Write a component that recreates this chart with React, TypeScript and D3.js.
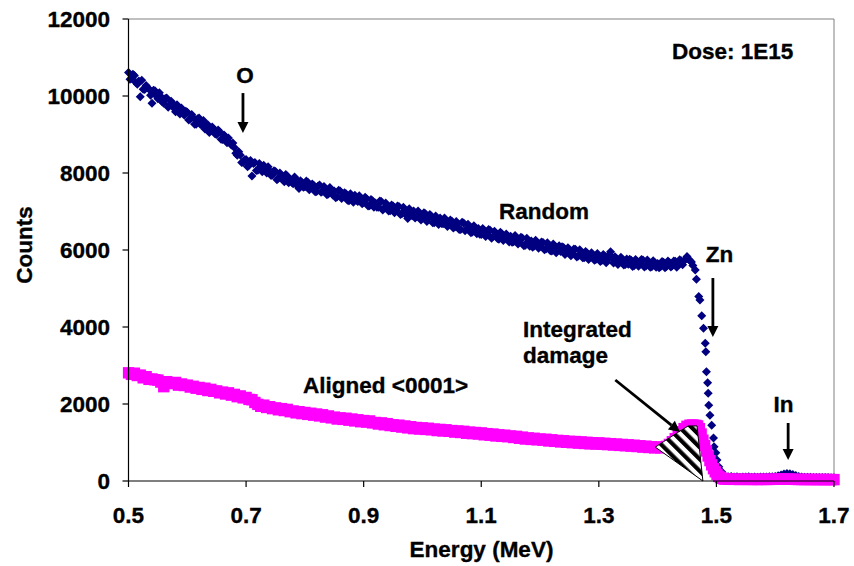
import React from "react";
import * as d3 from "d3";

// Channel layout (MeV)
const STEP = 0.005;
const MAIN_START = 0.5;
const MID_START = 0.5025;
const TAIL_START = 1.515;

const xTicks = [0.5, 0.7, 0.9, 1.1, 1.3, 1.5, 1.7];
const yTicks = [0, 2000, 4000, 6000, 8000, 10000, 12000];

// Random spectrum, channels 0.500 .. 1.460 MeV
const randomMain = [
  10610, 10455, 10530, 10305, 9980, 10175, 10270, 10175, 9810, 10135,
  9930, 9990, 9810, 9950, 9770, 9810, 9590, 9670, 9690, 9500,
  9580, 9395, 9440, 9265, 9430, 9255, 9140, 9255, 9100, 9145,
  9000, 9070, 8870, 8940, 8910, 8730, 8660, 8460, 8470, 8270,
  8350, 8200, 7920, 8270, 8070, 8170, 8200, 8000, 8060, 7950,
  8040, 7865, 7940, 7775, 7920, 7835, 7720, 7835, 7600, 7755,
  7640, 7758, 7626, 7684, 7522, 7690, 7528, 7566, 7454, 7562,
  7530, 7380, 7530, 7400, 7460, 7280, 7390, 7420, 7260, 7310,
  7240, 7330, 7150, 7280, 7220, 7110, 7260, 7090, 7150, 7020,
  7140, 7030, 7130, 6940, 7040, 6820, 6980, 7010, 6870, 6930,
  6830, 6940, 6820, 6880, 6710, 6810, 6830, 6680, 6730, 6660,
  6750, 6600, 6680, 6530, 6700, 6550, 6610, 6470, 6540, 6560,
  6400, 6512, 6414, 6516, 6348, 6410, 6282, 6424, 6326, 6358,
  6360, 6213, 6296, 6209, 6312, 6125, 6218, 6231, 6104, 6157,
  6100, 6193, 6026, 6119, 5972, 6105, 6038, 5961, 6064, 5957,
  6010, 5904, 6018, 5842, 5916, 5800, 5924, 5818, 5872, 5756,
  5840, 5728, 5846, 5734, 5952, 5660, 5778, 5676, 5764, 5622,
  5630, 5734, 5588, 5702, 5636, 5740, 5584, 5668, 5562, 5676,
  5650, 5565, 5680, 5570, 5675, 5590, 5710, 5620, 5720, 5720, 5830, 5730, 5600,
];
// Random spectrum, in-between channels 0.5025 .. 1.4575 MeV
const randomMid = [
  10432, 10567, 10352, 10387, 10412, 10167, 10212, 10017, 10152, 9997,
  10085, 9845, 9935, 9705, 9865, 9685, 9775, 9535, 9555, 9605,
  9377, 9522, 9267, 9412, 9257, 9362, 9237, 9052, 9197, 9012,
  9115, 8875, 8985, 8785, 8785, 8780, 8510, 8550, 8275, 8345,
  8165, 8325, 8245, 8065, 8245, 8035, 8065, 8165, 7935, 8060,
  7827, 8002, 7827, 7962, 7747, 7762, 7897, 7662, 7797, 7632,
  7789, 7567, 7715, 7513, 7661, 7499, 7647, 7435, 7623, 7431,
  7360, 7550, 7340, 7490, 7290, 7460, 7240, 7290, 7410, 7200,
  7370, 7140, 7310, 7110, 7110, 7270, 7040, 7220, 7010, 7170,
  6970, 7140, 6920, 7110, 6900, 7070, 6890, 6830, 7010, 6780,
  6970, 6740, 6920, 6710, 6880, 6660, 6690, 6830, 6610, 6780,
  6570, 6740, 6530, 6720, 6500, 6670, 6450, 6630, 6420, 6410,
  6561, 6353, 6535, 6307, 6489, 6301, 6463, 6245, 6417, 6209,
  6201, 6374, 6157, 6330, 6113, 6306, 6099, 6072, 6255, 6048,
  6211, 6004, 6187, 5980, 6153, 5926, 6109, 6082, 5885, 6058,
  5852, 6026, 5820, 6004, 5798, 5962, 5756, 5930, 5734, 5908,
  5704, 5882, 5670, 5878, 5806, 5824, 5622, 5810, 5608, 5766,
  5757, 5571, 5755, 5579, 5753, 5557, 5741, 5555, 5719, 5553,
  5538, 5702, 5540, 5712, 5558, 5715, 5555, 5750, 5620, 5760, 5760, 5690,
];
// Random spectrum, Zn edge
const randomEdgeE = [1.464, 1.466, 1.47, 1.472, 1.475, 1.478, 1.481, 1.482, 1.483, 1.485, 1.486, 1.487, 1.489, 1.492, 1.495, 1.496, 1.499, 1.501, 1.504, 1.509, 1.512];
const randomEdgeC = [5480, 5240, 4790, 4700, 4290, 3970, 3580, 3360, 2840, 2550, 2280, 1970, 1710, 1450, 1120, 890, 735, 545, 370, 240, 150];
// Random spectrum, 1.515 .. 1.700 MeV
const randomTail = [
  120, 110, 115, 105, 110, 100, 106, 102, 108, 98,
  104, 100, 104, 102, 106, 108, 112, 120, 135, 155,
  180, 195, 190, 170, 140, 118, 105, 100, 96, 98,
  92, 94, 90, 92, 88, 90, 86, 85,
];

// Aligned <0001> spectrum, 0.500 .. 1.465 MeV
const alignedMain = [
  2810, 2770, 2800, 2740, 2750, 2680, 2710, 2640, 2650, 2630,
  2620, 2570, 2450, 2580, 2550, 2530, 2560, 2490, 2520, 2480,
  2490, 2440, 2460, 2410, 2430, 2380, 2410, 2350, 2380, 2330,
  2340, 2290, 2310, 2260, 2290, 2230, 2250, 2190, 2210, 2160,
  2170, 2120, 2110, 2040, 1990, 1940, 1970, 1910, 1930, 1880,
  1900, 1850, 1880, 1830, 1860, 1800, 1820, 1770, 1800, 1750,
  1780, 1730, 1760, 1710, 1740, 1690, 1720, 1660, 1690, 1640,
  1660, 1610, 1640, 1600, 1630, 1580, 1610, 1560, 1590, 1540,
  1570, 1530, 1560, 1510, 1520, 1480, 1510, 1460, 1490, 1440,
  1460, 1420, 1450, 1400, 1430, 1380, 1410, 1360, 1390, 1350,
  1380, 1340, 1370, 1330, 1350, 1310, 1340, 1300, 1330, 1290,
  1310, 1270, 1300, 1260, 1290, 1240, 1270, 1230, 1260, 1220,
  1250, 1200, 1230, 1190, 1220, 1170, 1200, 1160, 1190, 1150,
  1170, 1130, 1160, 1110, 1140, 1090, 1120, 1080, 1110, 1070,
  1090, 1060, 1085, 1040, 1070, 1030, 1055, 1015, 1045, 1005,
  1030, 995, 1025, 985, 1015, 975, 1005, 965, 995, 960,
  990, 955, 980, 945, 970, 935, 960, 925, 950, 915,
  940, 905, 930, 895, 915, 880, 905, 870, 890, 860,
  880, 860, 885, 900, 950, 1020, 1100, 1190, 1280, 1360, 1420, 1450, 1455, 1445,
];
const alignedEdgeE = [1.468, 1.471, 1.474, 1.477, 1.48, 1.483, 1.486, 1.489, 1.492, 1.495, 1.498, 1.501, 1.504, 1.507, 1.51, 1.513];
const alignedEdgeC = [1430, 1360, 1220, 1060, 920, 780, 650, 530, 420, 320, 240, 170, 120, 90, 70, 55];
const alignedTail = [
  50, 45, 48, 42, 45, 40, 44, 41, 43, 40,
  42, 39, 41, 43, 40, 42, 44, 45, 48, 50,
  52, 50, 47, 44, 42, 40, 41, 39, 40, 38,
  40, 37, 39, 38, 36, 38, 37, 36,
];

// Integrated damage region (energy, counts)
const damageE = [1.396, 1.433, 1.452, 1.467, 1.477];
const damageC = [880, 1250, 1430, 1430, 0];

const W = 854;
const H = 566;
const FONT = "'Liberation Sans', Arial, sans-serif";
const FS = 22.5;

function build(main: number[], edgeE: number[], edgeC: number[], tail: number[]) {
  const pts: [number, number][] = [];
  main.forEach((c, i) => pts.push([+(MAIN_START + i * STEP).toFixed(4), c]));
  edgeE.forEach((e, i) => pts.push([e, edgeC[i]]));
  tail.forEach((c, i) => pts.push([+(TAIL_START + i * STEP).toFixed(4), c]));
  return pts;
}

export default function App() {
  const x = d3.scaleLinear().domain([0.5, 1.7]).range([128.5, 834]);
  const y = d3.scaleLinear().domain([0, 12000]).range([481, 19]);

  const randomPts = build(randomMain, randomEdgeE, randomEdgeC, randomTail);
  randomMid.forEach((c, i) => randomPts.push([+(MID_START + i * STEP).toFixed(4), c]));
  const alignedPts = build(alignedMain, alignedEdgeE, alignedEdgeC, alignedTail);

  const r = 4.5;
  const diamond = `M0,${-r}L${r},0L0,${r}L${-r},0Z`;
  const s = 5.7;

  const damagePath =
    d3.line<number>()
      .x((_, i) => x(damageE[i]))
      .y((_, i) => y(damageC[i]))(damageE.map((e) => e)) + "Z";

  const arrow = (x1: number, y1: number, x2: number, y2: number, key: string) => {
    const X1 = x(x1), Y1 = y(y1), X2 = x(x2), Y2 = y(y2);
    const ang = Math.atan2(Y2 - Y1, X2 - X1);
    const hl = 11, hw = 5.5;
    const bx = X2 - hl * Math.cos(ang), by = Y2 - hl * Math.sin(ang);
    const px = -Math.sin(ang) * hw, py = Math.cos(ang) * hw;
    return (
      <g key={key}>
        <line x1={X1} y1={Y1} x2={bx} y2={by} stroke="#000" strokeWidth={2.8} />
        <path d={`M${X2},${Y2}L${bx + px},${by + py}L${bx - px},${by - py}Z`} fill="#000" />
      </g>
    );
  };

  const textStyle = {
    fontFamily: FONT,
    fontWeight: 700,
    fontSize: FS,
    fill: "#000",
    stroke: "#000",
    strokeWidth: 0.35,
  } as const;

  return (
    <div style={{ position: "absolute", left: 0, top: 0, width: W, height: H, background: "#fff" }}>
      <svg width={W} height={H} style={{ display: "block" }}>
        <defs>
          <pattern id="hatch" patternUnits="userSpaceOnUse" width={8.4} height={8.4} patternTransform="rotate(-45)">
            <rect width={8.4} height={8.4} fill="#fff" />
            <rect width={4.2} height={8.4} fill="#000" />
          </pattern>
          <clipPath id="plot">
            <rect x={x(0.5) - 6} y={y(12000)} width={x(1.7) - x(0.5) + 12} height={y(0) - y(12000) + 6} />
          </clipPath>
        </defs>

        {/* plot frame */}
        <line x1={x(0.5)} x2={x(1.7)} y1={y(12000)} y2={y(12000)} stroke="#808080" strokeWidth={1} />
        <line x1={x(1.7)} x2={x(1.7)} y1={y(12000)} y2={y(0)} stroke="#808080" strokeWidth={1} />

        {/* Random series */}
        <g fill="#000080">
          {randomPts.map(([e, c], i) => (
            <path key={i} d={diamond} transform={`translate(${x(e)},${y(c)})`} />
          ))}
        </g>

        {/* Aligned series */}
        <g fill="#FF00FF" clipPath="url(#plot)">
          {alignedPts.map(([e, c], i) => (
            <rect key={i} x={x(e) - s} y={y(c) - s} width={2 * s} height={2 * s} />
          ))}
        </g>

        {/* hatched integrated damage */}
        <path d={damagePath} fill="url(#hatch)" stroke="#000" strokeWidth={1} />

        {/* axes */}
        <line x1={x(0.5)} x2={x(0.5)} y1={y(12000)} y2={y(0)} stroke="#000" strokeWidth={1.2} />
        <line x1={x(0.5)} x2={x(1.7)} y1={y(0)} y2={y(0)} stroke="#000" strokeWidth={1.2} />
        {yTicks.map((t) => (
          <g key={"y" + t}>
            <line x1={x(0.5) - 6} x2={x(0.5)} y1={y(t)} y2={y(t)} stroke="#000" strokeWidth={1.2} />
            <text x={110} y={y(t) + 8} textAnchor="end" style={textStyle}>{t}</text>
          </g>
        ))}
        {xTicks.map((t) => (
          <g key={"x" + t}>
            <line x1={x(t)} x2={x(t)} y1={y(0)} y2={y(0) + 6} stroke="#000" strokeWidth={1.2} />
            <text x={x(t)} y={y(0) + 42} textAnchor="middle" style={textStyle}>{t.toFixed(1)}</text>
          </g>
        ))}

        {/* axis titles */}
        <text x={481.5} y={557} textAnchor="middle" style={textStyle}>Energy (MeV)</text>
        <text transform="translate(32,245) rotate(-90)" textAnchor="middle" style={textStyle}>Counts</text>

        {/* annotations */}
        <text x={672} y={59} style={textStyle}>Dose: 1E15</text>
        <text x={x(0.698)} y={y(10336)} textAnchor="middle" style={textStyle}>O</text>
        {arrow(0.6947, 10076, 0.6947, 9037, "aO")}
        <text x={544} y={219} textAnchor="middle" style={textStyle}>Random</text>
        <text x={719.5} y={262} textAnchor="middle" style={textStyle}>Zn</text>
        {arrow(1.494, 5272, 1.494, 3740, "aZn")}
        <text x={783.5} y={412} textAnchor="middle" style={textStyle}>In</text>
        {arrow(1.622, 1506, 1.622, 545, "aIn")}
        <text x={303} y={393} style={textStyle}>Aligned &lt;0001&gt;</text>
        <text x={523} y={337} style={textStyle}>Integrated</text>
        <text x={523} y={363} style={textStyle}>damage</text>
        {arrow(1.328, 2623, 1.438, 1272, "aDmg")}
      </svg>
    </div>
  );
}
